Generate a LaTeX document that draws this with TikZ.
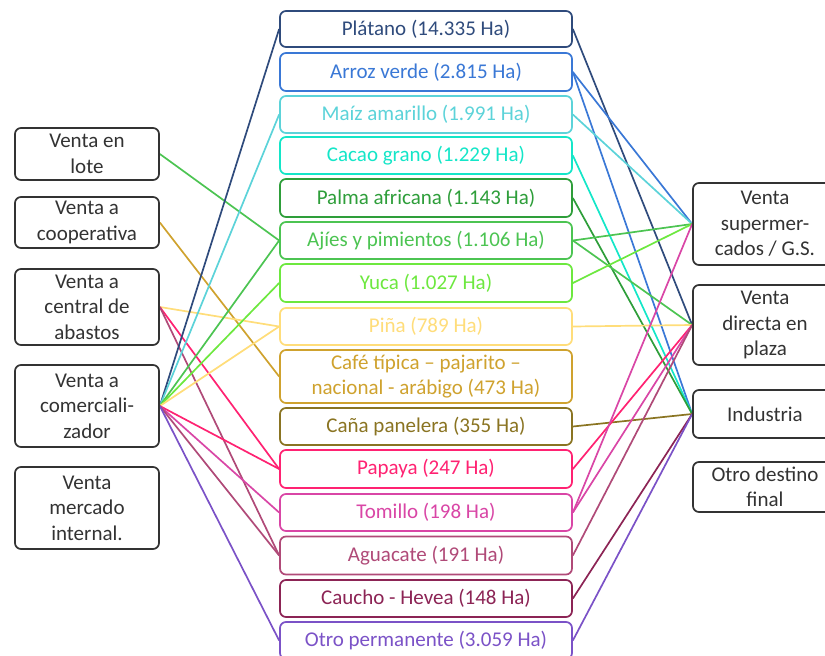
\documentclass[tikz,border=0pt]{standalone}
\usepackage{fontspec}
\setmainfont{Carlito}
\usetikzlibrary{backgrounds}
\definecolor{cPla}{HTML}{2F4B7C}
\definecolor{cArr}{HTML}{3A78D6}
\definecolor{cMai}{HTML}{5CD3D9}
\definecolor{cCac}{HTML}{14E6C8}
\definecolor{cPal}{HTML}{2E9E3A}
\definecolor{cAji}{HTML}{4CC452}
\definecolor{cYuc}{HTML}{6DE83F}
\definecolor{cPin}{HTML}{FFDD7A}
\definecolor{cCaf}{HTML}{CFA22E}
\definecolor{cCan}{HTML}{8A7422}
\definecolor{cPap}{HTML}{FF2272}
\definecolor{cTom}{HTML}{D946A6}
\definecolor{cAgu}{HTML}{B04A78}
\definecolor{cCau}{HTML}{8C2455}
\definecolor{cOtr}{HTML}{7B52C7}
\definecolor{boxgray}{HTML}{333333}
\begin{document}
\begin{tikzpicture}[x=1pt,y={(0pt,-1pt)},
  box/.style={draw, rounded corners=6pt, fill=white, line width=1.7pt, align=center,
    inner sep=0pt, font=\fontsize{21}{25.5}\selectfont},
  side/.style={box, draw=boxgray, text=boxgray, minimum width=144pt},
  mid/.style={box, draw=#1, text=#1, minimum width=292pt},
  link/.style={line width=1.7pt}]
\useasboundingbox (0,0) rectangle (825,656);
\clip (0,0) rectangle (825,656);
% left column
\node[side, minimum height=52pt] (lote) at (87,154) {Venta en\\lote};
\node[side, minimum height=51pt] (coop) at (87,222.5) {Venta a\\cooperativa};
\node[side, minimum height=76pt] (cent) at (87,307) {Venta a\\central de\\abastos};
\node[side, minimum height=82pt] (com) at (87,406) {Venta a\\comerciali-\\zador};
\node[side, minimum height=82pt] (mer) at (87,508) {Venta\\mercado\\internal.};
% middle column
\node[mid=cPla, minimum height=36pt] (pla) at (426,29) {Plátano (14.335 Ha)};
\node[mid=cArr, minimum height=38pt] (arr) at (426,72) {Arroz verde (2.815 Ha)};
\node[mid=cMai, minimum height=37pt] (mai) at (426,114.5) {Maíz amarillo (1.991 Ha)};
\node[mid=cCac, minimum height=37pt] (cac) at (426,155.5) {Cacao grano (1.229 Ha)};
\node[mid=cPal, minimum height=38pt] (pal) at (426,198) {Palma africana (1.143 Ha)};
\node[mid=cAji, minimum height=37pt] (aji) at (426,240.5) {Ajíes y pimientos (1.106 Ha)};
\node[mid=cYuc, minimum height=38pt] (yuc) at (426,283) {Yuca (1.027 Ha)};
\node[mid=cPin, minimum height=37pt] (pin) at (426,326.5) {Piña (789 Ha)};
\node[mid=cCaf, minimum height=53pt] (caf) at (426,376.5) {Café típica – pajarito –\\nacional - arábigo (473 Ha)};
\node[mid=cCan, minimum height=37pt] (can) at (426,426.5) {Caña panelera (355 Ha)};
\node[mid=cPap, minimum height=38pt] (pap) at (426,469) {Papaya (247 Ha)};
\node[mid=cTom, minimum height=37pt] (tom) at (426,512.5) {Tomillo (198 Ha)};
\node[mid=cAgu, minimum height=38pt] (agu) at (426,555.5) {Aguacate (191 Ha)};
\node[mid=cCau, minimum height=37pt] (cau) at (426,598.5) {Caucho - Hevea (148 Ha)};
\node[mid=cOtr, minimum height=37pt] (otr) at (426,640.5) {Otro permanente (3.059 Ha)};
% right column
\node[side, minimum height=82pt] (sup) at (765,224) {Venta\\supermer-\\cados / G.S.};
\node[side, minimum height=80pt] (plaza) at (765,325) {Venta\\directa en\\plaza};
\node[side, minimum height=48pt] (ind) at (765,414) {Industria};
\node[side, minimum height=50pt] (odf) at (765,487) {Otro destino\\final};
\begin{scope}[on background layer]
\begin{scope}[link]
% left connectors
\draw[cAji] (lote.east) -- (aji.west);
\draw[cCaf] (coop.east) -- (caf.west);
\draw[cPin] (cent.east) -- (pin.west);
\draw[cPap] (cent.east) -- (pap.west);
\draw[cAgu] (cent.east) -- (agu.west);
\draw[cPla] (com.east) -- (pla.west);
\draw[cMai] (com.east) -- (mai.west);
\draw[cAji] (com.east) -- (aji.west);
\draw[cYuc] (com.east) -- (yuc.west);
\draw[cPin] (com.east) -- (pin.west);
\draw[cPap] (com.east) -- (pap.west);
\draw[cTom] (com.east) -- (tom.west);
\draw[cAgu] (com.east) -- (agu.west);
\draw[cOtr] (com.east) -- (otr.west);
% right connectors
\draw[cPla] (pla.east) -- (plaza.west);
\draw[cArr] (arr.east) -- (sup.west);
\draw[cArr] (arr.east) -- (ind.west);
\draw[cMai] (mai.east) -- (sup.west);
\draw[cCac] (cac.east) -- (ind.west);
\draw[cPal] (pal.east) -- (ind.west);
\draw[cAji] (aji.east) -- (sup.west);
\draw[cAji] (aji.east) -- (plaza.west);
\draw[cYuc] (yuc.east) -- (sup.west);
\draw[cPin] (pin.east) -- (plaza.west);
\draw[cCan] (can.east) -- (ind.west);
\draw[cPap] (pap.east) -- (plaza.west);
\draw[cTom] (tom.east) -- (sup.west);
\draw[cTom] (tom.east) -- (plaza.west);
\draw[cAgu] (agu.east) -- (plaza.west);
\draw[cCau] (cau.east) -- (ind.west);
\draw[cOtr] (otr.east) -- (ind.west);
\end{scope}
\end{scope}
\end{tikzpicture}
\end{document}
